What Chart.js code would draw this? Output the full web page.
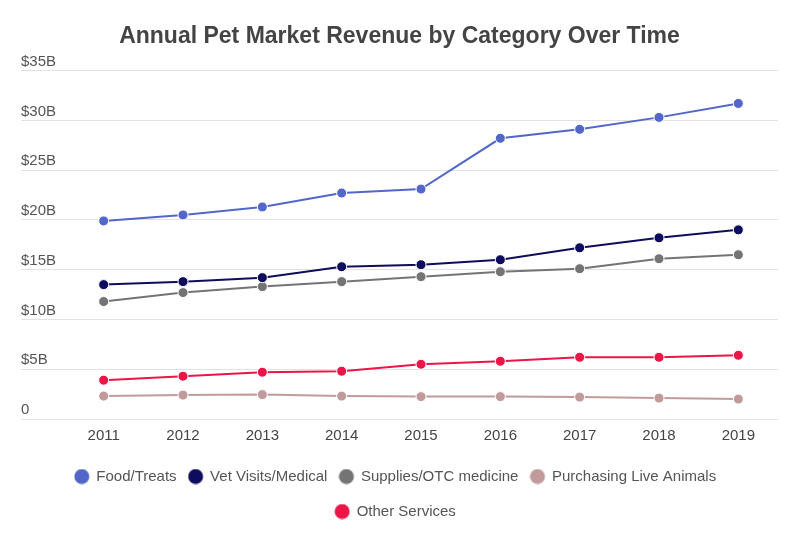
<!DOCTYPE html>
<html>
<head>
<meta charset="utf-8">
<script src="https://cdn.jsdelivr.net/npm/chart.js@4"></script>
<style>
  html, body { margin: 0; padding: 0; background: #fff; }
  #wrap { width: 806px; height: 533px; }
</style>
</head>
<body>
<div id="wrap"><canvas id="myChart" width="806" height="533"></canvas></div>
<script>
const years = ["2011", "2012", "2013", "2014", "2015", "2016", "2017", "2018", "2019"];
const foodTreats = [19.9, 20.5, 21.3, 22.7, 23.1, 28.2, 29.1, 30.3, 31.7];
const vetMedical = [13.5, 13.8, 14.2, 15.3, 15.5, 16.0, 17.2, 18.2, 19.0];
const suppliesOtc = [11.8, 12.7, 13.3, 13.8, 14.3, 14.8, 15.1, 16.1, 16.5];
const liveAnimals = [2.3, 2.4, 2.45, 2.3, 2.25, 2.25, 2.2, 2.1, 2.0];
const otherServices = [3.9, 4.3, 4.7, 4.8, 5.5, 5.8, 6.2, 6.2, 6.4];
const yTicks = [0, 5, 10, 15, 20, 25, 30, 35];

function series(label, data, color) {
  return {
    label: label,
    data: data,
    borderColor: color,
    backgroundColor: color,
    borderWidth: 2,
    pointRadius: 5,
    pointHoverRadius: 5,
    pointBorderColor: "#fff",
    pointBorderWidth: 1,
    pointBackgroundColor: color,
    tension: 0
  };
}

// legend swatch: a dot sitting a bit left inside a wider canvas, so the
// gaps around it match the original legend
function dot(color) {
  const c = document.createElement("canvas");
  c.width = 24; c.height = 16;
  const g = c.getContext("2d");
  g.fillStyle = color;
  g.beginPath();
  g.arc(8, 8, 7.5, 0, Math.PI * 2);
  g.fill();
  return c;
}

Chart.defaults.font.family = "'Liberation Sans', Arial, sans-serif";
Chart.defaults.color = "#555";

new Chart(document.getElementById("myChart"), {
  type: "line",
  data: {
    labels: years,
    datasets: [
      series("Food/Treats", foodTreats, "#5366c9"),
      series("Vet Visits/Medical", vetMedical, "#0e0c5c"),
      series("Supplies/OTC medicine", suppliesOtc, "#747474"),
      series("Purchasing Live Animals", liveAnimals, "#c19b9b"),
      series("Other Services", otherServices, "#ec1548")
    ]
  },
  options: {
    responsive: false,
    animation: false,
    layout: { padding: { left: 21, right: 28, top: 8, bottom: 4 } },
    plugins: {
      title: {
        display: true,
        text: "Annual Pet Market Revenue by Category Over Time",
        color: "#444",
        font: { size: 23, weight: "bold" },
        padding: { top: 15, bottom: 20 }
      },
      legend: {
        position: "bottom",
        labels: {
          usePointStyle: true,
          boxWidth: 6,
          color: "#555",
          font: { size: 15 },
          padding: 20,
          generateLabels: function (chart) {
            const items = Chart.defaults.plugins.legend.labels.generateLabels(chart);
            items.forEach(it => { it.pointStyle = dot(it.fillStyle); });
            return items;
          }
        }
      },
      tooltip: { enabled: false }
    },
    scales: {
      x: {
        offset: true,
        afterFit: function (scale) { scale.height = 30; },
        grid: { display: false, drawTicks: false },
        border: { display: false },
        ticks: { font: { size: 15 }, color: "#444", padding: 8 }
      },
      y: {
        min: 0,
        max: 35,
        afterFit: function (scale) { scale.width = 43; },
        afterBuildTicks: function (scale) {
          scale.ticks = yTicks.map(v => ({ value: v }));
        },
        border: { display: false },
        grid: { color: "#e2e2e2", tickLength: 43, lineWidth: 1 },
        ticks: {
          crossAlign: "far",
          labelOffset: -9,
          font: { size: 15 },
          color: "#555",
          callback: v => v === 0 ? "0" : "$" + v + "B"
        }
      }
    }
  }
});
</script>
</body>
</html>
